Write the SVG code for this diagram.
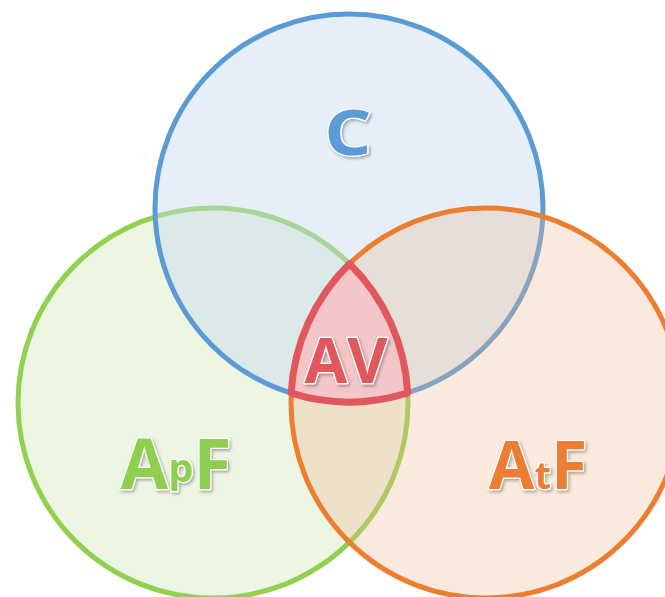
<svg xmlns="http://www.w3.org/2000/svg" width="665" height="597" viewBox="0 0 665 597">
  <defs>
    <filter id="lift" x="-20%" y="-20%" width="150%" height="150%">
      <feDropShadow dx="1.5" dy="2" stdDeviation="1.5" flood-color="#000" flood-opacity="0.3"/>
    </filter>
  </defs>
  <style>
    .ring { stroke-width: 5; }
    .label { font-family: "Open Sans", "Noto Sans", "Liberation Sans", sans-serif; font-weight: bold; text-anchor: middle; stroke: #fff; stroke-width: 2.5; paint-order: stroke; stroke-linejoin: round; filter: url(#lift); }
  </style>

  <!-- green set, drawn first -->
  <g id="apf">
    <circle class="ring" cx="213" cy="403" r="195" fill="#edf5e3" stroke="#92d050"/>
  </g>
  <!-- blue set, translucent over green -->
  <g id="c">
    <circle cx="349" cy="208" r="194" fill="#c8dcf0" fill-opacity="0.45"/>
    <circle class="ring" cx="349" cy="208" r="194" fill="none" stroke="#5b9bd5"/>
  </g>
  <!-- orange set, translucent on top -->
  <g id="atf">
    <circle cx="486" cy="403" r="195" fill="#eeb68e" fill-opacity="0.3"/>
    <circle class="ring" cx="486" cy="403" r="195" fill="none" stroke="#ed7d31"/>
  </g>
  <!-- common intersection of all three -->
  <g id="av">
    <path d="M349.5 263.7 A195 195 0 0 0 291.2 393.2 A194 194 0 0 0 407.7 392.9 A195 195 0 0 0 349.5 263.7 Z" fill="#f5c6c8" stroke="#e0585d" stroke-width="7" stroke-linejoin="round"/>
  </g>

  <g id="labels">
    <text class="label" transform="translate(348 155) scale(1.18 1)" font-size="63" fill="#5b9bd5">C</text>
    <text class="label" x="176" y="489" font-size="69" fill="#8fcf4f">A<tspan font-size="40" dy="-7">p</tspan><tspan dy="7">F</tspan></text>
    <text class="label" x="538" y="489" font-size="66" fill="#ed7d31">A<tspan font-size="38">t</tspan>F</text>
    <text class="label" x="346" y="383" font-size="62" fill="#e0585d">AV</text>
  </g>
</svg>
